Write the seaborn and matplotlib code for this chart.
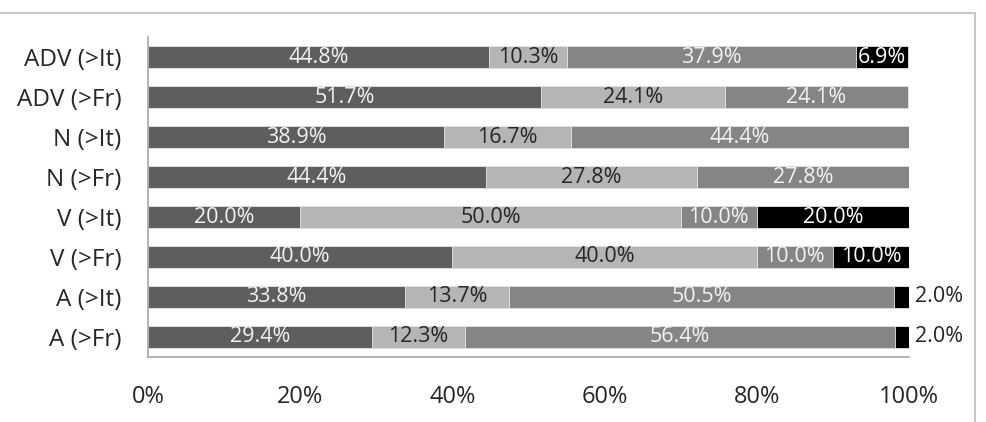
import pandas as pd
import matplotlib.pyplot as plt
import matplotlib.patches as patches
import seaborn as sns
import numpy as np

# Style
sns.set_style("white")
plt.rcParams['font.family'] = ['Open Sans', 'DejaVu Sans']

# Data (percentages, top to bottom)
categories = ['ADV (>It)', 'ADV (>Fr)', 'N (>It)', 'N (>Fr)',
              'V (>It)', 'V (>Fr)', 'A (>It)', 'A (>Fr)']
seg1 = [44.8, 51.7, 38.9, 44.4, 20.0, 40.0, 33.8, 29.4]
seg2 = [10.3, 24.1, 16.7, 27.8, 50.0, 40.0, 13.7, 12.3]
seg3 = [37.9, 24.1, 44.4, 27.8, 10.0, 10.0, 50.5, 56.4]
seg4 = [6.9, 0.0, 0.0, 0.0, 20.0, 10.0, 2.0, 2.0]

colors = ['#5e5e5e', '#b5b5b5', '#858585', '#000000']
text_colors = ['#f2f2f2', '#262626', '#f2f2f2', '#ffffff']

df = pd.DataFrame({'cat': categories, 's1': seg1, 's2': seg2, 's3': seg3, 's4': seg4})
cums = np.cumsum(df[['s1', 's2', 's3', 's4']].values, axis=1)
df['c1'], df['c2'], df['c3'], df['c4'] = cums.T

fig = plt.figure(figsize=(9.86, 4.22), dpi=100)
ax = fig.add_axes([148 / 986, 1 - 357 / 422, (909 - 148) / 986, 320 / 422])

# Stacked bars: draw cumulative totals from largest to smallest
for col, c in zip(['c4', 'c3', 'c2', 'c1'], colors[::-1]):
    sns.barplot(data=df, x=col, y='cat', orient='h', color=c, ax=ax,
                width=0.55, edgecolor='#e6e6e6', linewidth=0.6, saturation=1)

# Segment labels
for i, row in df.iterrows():
    left = 0
    for k in range(4):
        v = row[f's{k + 1}']
        if v > 0:
            if k == 3 and v < 5:
                ax.text(100 + 0.8, i, f'{v:.1f}%', va='center', ha='left',
                        fontsize=15.5, color='#262626')
            else:
                ax.text(left + v / 2, i, f'{v:.1f}%', va='center', ha='center',
                        fontsize=15.5, color=text_colors[k])
        left += v

ax.set_xlim(0, 100)
ax.set_ylim(7.5, -0.5)
ax.set_xticks([0, 20, 40, 60, 80, 100])
ax.set_xticklabels([f'{t}%' for t in [0, 20, 40, 60, 80, 100]])
ax.set_xlabel('')
ax.set_ylabel('')
ax.tick_params(axis='x', length=0, pad=20, labelsize=17, colors='#262626')
ax.tick_params(axis='y', length=0, pad=19, labelsize=17.5, colors='#262626')
for s in ['top', 'right']:
    ax.spines[s].set_visible(False)
for s in ['left', 'bottom']:
    ax.spines[s].set_color('#a6a6a6')
    ax.spines[s].set_linewidth(1.2)

# Outer chart frame
frame = patches.Rectangle((-0.01, -0.1), 975 / 986 + 0.01, 1.1 - 13 / 422,
                          transform=fig.transFigure, fill=False,
                          edgecolor='#c8c8c8', linewidth=1.5)
fig.patches.append(frame)

plt.savefig('out.png', dpi=100)
plt.close()
